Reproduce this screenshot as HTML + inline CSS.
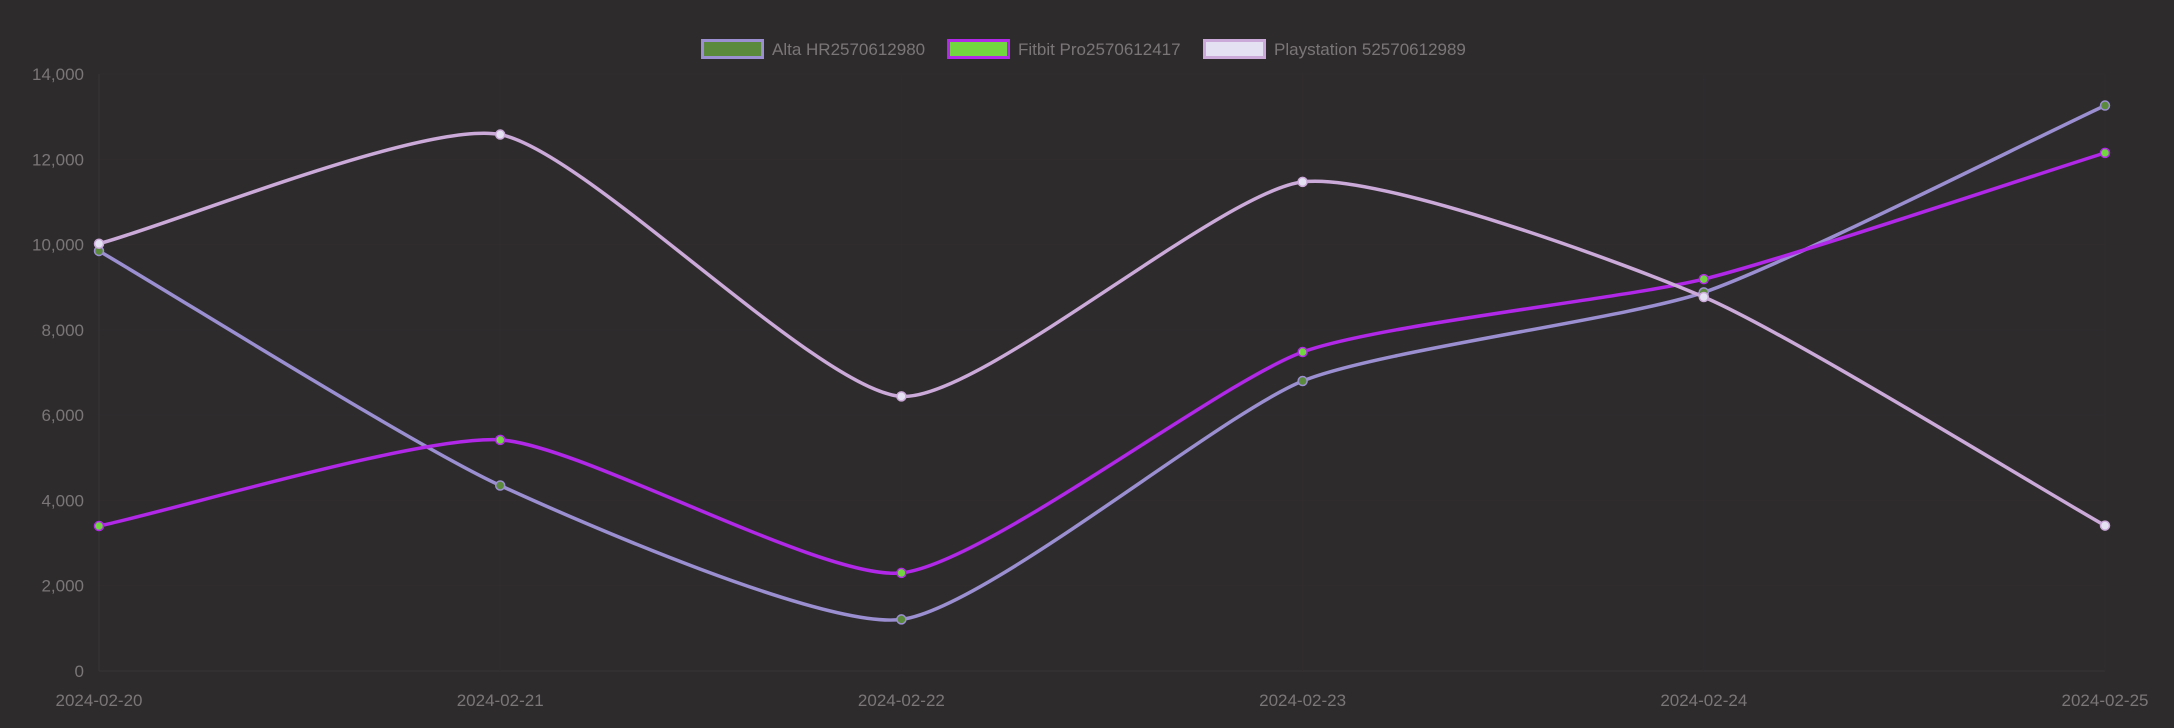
<!DOCTYPE html>
<html><head><meta charset="utf-8"><style>
html,body{margin:0;padding:0;background:#2e2b2d;}
svg{display:block;font-family:"Liberation Sans",Arial,sans-serif;}
</style></head><body>
<svg id="chart" width="2174" height="728" viewBox="0 0 2174 728" xmlns="http://www.w3.org/2000/svg">
<rect width="2174" height="728" fill="#2e2b2d"/>
<g id="grid"></g>
<g id="axes"></g>
<g id="series"></g>
<g id="legend"></g>
</svg>
<script>
const categories = ["2024-02-20","2024-02-21","2024-02-22","2024-02-23","2024-02-24","2024-02-25"];
const altaValues = [9850, 4350, 1210, 6800, 8880, 13260];
const fitbitValues = [3400, 5420, 2300, 7480, 9190, 12150];
const playValues = [10020, 12580, 6440, 11470, 8770, 3410];
const seriesNames = ["Alta HR2570612980","Fitbit Pro2570612417","Playstation 52570612989"];
const yTicks = [0,2000,4000,6000,8000,10000,12000,14000];
const yTickLabels = ["0","2,000","4,000","6,000","8,000","10,000","12,000","14,000"];

const NS="http://www.w3.org/2000/svg";
const X0=99, X1=2105, Y0=671, Y1=74, YMAX=14000;
function xs(i){return X0+(X1-X0)*i/(categories.length-1);}
function ys(v){return Y0-(Y0-Y1)*v/YMAX;}
function mk(tag,attrs,parent){const e=document.createElementNS(NS,tag);for(const k in attrs)e.setAttribute(k,attrs[k]);parent.appendChild(e);return e;}
const grid=document.getElementById('grid'),axes=document.getElementById('axes'),ser=document.getElementById('series'),leg=document.getElementById('legend');

yTicks.forEach((t,i)=>{
  const g=mk('line',{x1:X0,x2:X1,y1:ys(t),y2:ys(t),stroke:i===0?'#383537':'#302d2f','stroke-width':1},grid);
  
  
  const tx=mk('text',{x:84,y:ys(t)+6,'text-anchor':'end',fill:'#7a7678','font-size':17},axes);
  tx.textContent=yTickLabels[i];
  
  
});
categories.forEach((c,i)=>{
  const g=mk('line',{x1:xs(i),x2:xs(i),y1:Y1,y2:Y0,stroke:'#302d2f','stroke-width':1},grid);
  
  
  const tx=mk('text',{x:xs(i),y:706,'text-anchor':'middle',fill:'#7a7678','font-size':17},axes);
  tx.textContent=c;
  
  
});
const ax=mk('line',{x1:X0,x2:X0,y1:Y1,y2:Y0,stroke:'#383537','stroke-width':1},axes);



function path(vals){
  const p=vals.map((v,i)=>[xs(i),ys(v)]);const t=0.2;
  const cps=p.map((pt,i)=>{
    const prev=p[Math.max(0,i-1)],next=p[Math.min(p.length-1,i+1)];
    const d01=Math.hypot(pt[0]-prev[0],pt[1]-prev[1]),d12=Math.hypot(next[0]-pt[0],next[1]-pt[1]);
    const tot=d01+d12||1;const fa=t*d01/tot,fb=t*d12/tot;
    return {px:pt[0]-fa*(next[0]-prev[0]),py:pt[1]-fa*(next[1]-prev[1]),nx:pt[0]+fb*(next[0]-prev[0]),ny:pt[1]+fb*(next[1]-prev[1])};
  });
  let d='M'+p[0][0]+','+p[0][1];
  for(let i=1;i<p.length;i++){
    d+=' C'+cps[i-1].nx+','+cps[i-1].ny+' '+cps[i].px+','+cps[i].py+' '+p[i][0]+','+p[i][1];
  }
  return d;
}
const defs=[
 {vals:altaValues,line:'#9b8fd2',fill:'#5b8a3c',name:'alta'},
 {vals:fitbitValues,line:'#b128e8',fill:'#72d640',name:'fitbit'},
 {vals:playValues,line:'#cba9d9',fill:'#e4e2f2',name:'playstation'}
];
defs.forEach(s=>{
  const pl=mk('path',{d:path(s.vals),fill:'none',stroke:s.line,'stroke-width':3.5},ser);
  
  
});
defs.forEach(s=>{
  s.vals.forEach((v,i)=>{
    const c=mk('circle',{cx:xs(i),cy:ys(v),r:4.5,fill:s.fill,stroke:s.line,'stroke-width':1.5},ser);
    
    
  });
});
const legX=[701,947,1203];
defs.forEach((s,i)=>{
  const r=mk('rect',{x:legX[i]+1.5,y:40.5,width:60,height:17,fill:s.fill,stroke:s.line,'stroke-width':3},leg);
  
  
  const tx=mk('text',{x:legX[i]+71,y:55,fill:'#7a7678','font-size':17},leg);
  tx.textContent=seriesNames[i];
  
  
});
</script>
</body></html>
